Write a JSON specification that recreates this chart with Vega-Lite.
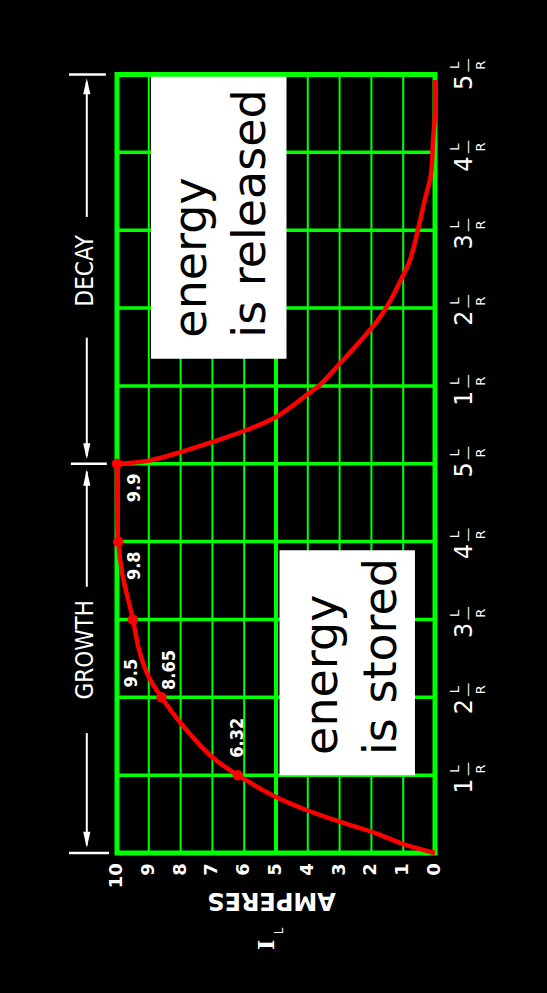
{
  "$schema": "https://vega.github.io/schema/vega-lite/v6.json",
  "width": 318,
  "height": 778.5,
  "autosize": {"type": "none"},
  "padding": {"left": 117, "top": 74.5, "right": 112, "bottom": 140},
  "background": "#000000",
  "config": {"view": {"stroke": "#00ff00", "strokeWidth": 5}},
  "datasets": {
    "vgrid": [{"a": 1}, {"a": 2}, {"a": 3}, {"a": 4}, {"a": 5}, {"a": 6}, {"a": 7}, {"a": 8}, {"a": 9}],
    "hgrid": [{"t": 1}, {"t": 2}, {"t": 3}, {"t": 4}, {"t": 5}, {"t": 6}, {"t": 7}, {"t": 8}, {"t": 9}],
    "boxes": [
      {"a1": 8.93, "a2": 4.67, "t1": 9.97, "t2": 6.35},
      {"a1": 4.89, "a2": 0.63, "t1": 3.89, "t2": 1.0}
    ],
    "boxtext": [
      {"a": 7.19, "t": 6.62, "lines": ["energy", "is released"]},
      {"a": 3.09, "t": 1.26, "lines": ["energy", "is stored"]}
    ],
    "curve": [
      {"phase": "growth", "t": 0, "a": 0}, {"phase": "growth", "t": 0.1, "a": 0.9}, {"phase": "growth", "t": 0.26, "a": 1.9},
      {"phase": "growth", "t": 0.39, "a": 2.9}, {"phase": "growth", "t": 0.53, "a": 3.9}, {"phase": "growth", "t": 0.72, "a": 5.0},
      {"phase": "growth", "t": 1.0, "a": 6.2}, {"phase": "growth", "t": 1.23, "a": 7.0}, {"phase": "growth", "t": 1.67, "a": 8.0},
      {"phase": "growth", "t": 2.0, "a": 8.6}, {"phase": "growth", "t": 2.26, "a": 9.0}, {"phase": "growth", "t": 2.6, "a": 9.3},
      {"phase": "growth", "t": 3.0, "a": 9.5}, {"phase": "growth", "t": 3.6, "a": 9.84}, {"phase": "growth", "t": 4.0, "a": 9.96},
      {"phase": "growth", "t": 4.5, "a": 10.0}, {"phase": "growth", "t": 5.0, "a": 10.0},
      {"phase": "decay", "t": 5.0, "a": 10.0}, {"phase": "decay", "t": 5.04, "a": 9.0}, {"phase": "decay", "t": 5.15, "a": 8.0},
      {"phase": "decay", "t": 5.28, "a": 7.0}, {"phase": "decay", "t": 5.43, "a": 5.95}, {"phase": "decay", "t": 5.6, "a": 5.0},
      {"phase": "decay", "t": 5.91, "a": 3.95}, {"phase": "decay", "t": 6.01, "a": 3.63}, {"phase": "decay", "t": 6.33, "a": 2.9},
      {"phase": "decay", "t": 6.6, "a": 2.3}, {"phase": "decay", "t": 6.87, "a": 1.75}, {"phase": "decay", "t": 7.1, "a": 1.4},
      {"phase": "decay", "t": 7.39, "a": 1.04}, {"phase": "decay", "t": 7.61, "a": 0.79}, {"phase": "decay", "t": 8.0, "a": 0.54},
      {"phase": "decay", "t": 8.39, "a": 0.32}, {"phase": "decay", "t": 8.71, "a": 0.13}, {"phase": "decay", "t": 9.16, "a": 0.06},
      {"phase": "decay", "t": 9.5, "a": 0.0}, {"phase": "decay", "t": 9.93, "a": 0.0}
    ],
    "markers": [{"t": 1, "a": 6.2}, {"t": 2, "a": 8.6}, {"t": 3, "a": 9.5}, {"t": 4, "a": 9.96}, {"t": 5, "a": 10.0}],
    "vlabels": [
      {"a": 6.21, "t": 1.48, "label": "6.32"},
      {"a": 8.33, "t": 2.35, "label": "8.65"},
      {"a": 9.53, "t": 2.31, "label": "9.5"},
      {"a": 9.43, "t": 3.69, "label": "9.8"},
      {"a": 9.43, "t": 4.69, "label": "9.9"}
    ],
    "tlabels": [
      {"t": 0.86, "n": "1"}, {"t": 1.88, "n": "2"}, {"t": 2.86, "n": "3"}, {"t": 3.87, "n": "4"}, {"t": 4.92, "n": "5"},
      {"t": 5.84, "n": "1"}, {"t": 6.87, "n": "2"}, {"t": 7.85, "n": "3"}, {"t": 8.85, "n": "4"}, {"t": 9.9, "n": "5"}
    ],
    "alabels": [
      {"a": 0, "n": "0"}, {"a": 1, "n": "1"}, {"a": 2, "n": "2"}, {"a": 3, "n": "3"}, {"a": 4, "n": "4"},
      {"a": 5, "n": "5"}, {"a": 6, "n": "6"}, {"a": 7, "n": "7"}, {"a": 8, "n": "8"}, {"a": 9, "n": "9"}, {"a": 10, "n": "10"}
    ],
    "vrules": [
      {"a": 10.95, "t1": 9.9, "t2": 8.17},
      {"a": 10.95, "t1": 6.62, "t2": 5.1},
      {"a": 10.95, "t1": 4.9, "t2": 3.42},
      {"a": 10.95, "t1": 1.54, "t2": 0.1}
    ],
    "hticks": [
      {"t": 10, "a1": 11.51, "a2": 10.35},
      {"t": 5, "a1": 11.45, "a2": 10.32},
      {"t": 0, "a1": 11.51, "a2": 10.25}
    ],
    "arrowheads": [
      {"a": 10.95, "t": 9.85, "dir": "up"},
      {"a": 10.95, "t": 5.16, "dir": "down"},
      {"a": 10.95, "t": 4.82, "dir": "up"},
      {"a": 10.95, "t": 0.17, "dir": "down"}
    ],
    "sections": [
      {"a": 10.98, "t": 7.48, "label": "DECAY"},
      {"a": 10.98, "t": 2.61, "label": "GROWTH"}
    ]
  },
  "layer": [
    {
      "data": {"name": "vgrid"},
      "mark": {"type": "rule", "color": "#00ff00"},
      "encoding": {
        "x": {"field": "a", "type": "quantitative", "scale": {"domain": [0, 10], "reverse": true, "nice": false, "zero": false}, "axis": null},
        "strokeWidth": {"condition": {"test": "datum.a === 5", "value": 4}, "value": 2}
      }
    },
    {
      "data": {"name": "hgrid"},
      "mark": {"type": "rule", "color": "#00ff00", "strokeWidth": 3.5},
      "encoding": {
        "y": {"field": "t", "type": "quantitative", "scale": {"domain": [0, 10], "nice": false, "zero": false}, "axis": null}
      }
    },
    {
      "data": {"name": "boxes"},
      "mark": {"type": "rect", "color": "#ffffff"},
      "encoding": {
        "x": {"field": "a1", "type": "quantitative", "axis": null},
        "x2": {"field": "a2"},
        "y": {"field": "t1", "type": "quantitative", "axis": null},
        "y2": {"field": "t2"}
      }
    },
    {
      "data": {"name": "boxtext"},
      "mark": {"type": "text", "angle": 270, "align": "left", "baseline": "alphabetic", "font": "DejaVu Sans", "fontSize": 46, "lineHeight": 59, "color": "#000000"},
      "encoding": {
        "x": {"field": "a", "type": "quantitative", "axis": null},
        "y": {"field": "t", "type": "quantitative", "axis": null},
        "text": {"field": "lines", "type": "nominal"}
      }
    },
    {
      "data": {"name": "curve"},
      "mark": {"type": "line", "color": "#ff0000", "strokeWidth": 4.5, "interpolate": "catmull-rom"},
      "encoding": {
        "x": {"field": "a", "type": "quantitative", "axis": null},
        "y": {"field": "t", "type": "quantitative", "axis": null},
        "detail": {"field": "phase", "type": "nominal"},
        "order": {"field": "t", "type": "quantitative"}
      }
    },
    {
      "data": {"name": "markers"},
      "mark": {"type": "point", "shape": "circle", "filled": true, "color": "#ff0000", "size": 110, "opacity": 1},
      "encoding": {
        "x": {"field": "a", "type": "quantitative", "axis": null},
        "y": {"field": "t", "type": "quantitative", "axis": null}
      }
    },
    {
      "data": {"name": "vlabels"},
      "mark": {"type": "text", "angle": 270, "align": "center", "baseline": "middle", "font": "DejaVu Sans Condensed, DejaVu Sans", "fontWeight": "bold", "fontSize": 18, "color": "#ffffff"},
      "encoding": {
        "x": {"field": "a", "type": "quantitative", "axis": null},
        "y": {"field": "t", "type": "quantitative", "axis": null},
        "text": {"field": "label", "type": "nominal"}
      }
    },
    {
      "data": {"name": "tlabels"},
      "mark": {"type": "text", "angle": 270, "align": "center", "baseline": "middle", "font": "DejaVu Sans", "fontSize": 24, "color": "#ffffff"},
      "encoding": {
        "x": {"datum": -0.95, "type": "quantitative", "axis": null},
        "y": {"field": "t", "type": "quantitative", "axis": null},
        "text": {"field": "n", "type": "nominal"}
      }
    },
    {
      "data": {"name": "tlabels"},
      "mark": {"type": "text", "angle": 270, "align": "center", "baseline": "middle", "font": "DejaVu Sans", "fontSize": 13, "color": "#ffffff", "dx": 17, "dy": -10, "text": "L"},
      "encoding": {
        "x": {"datum": -0.95, "type": "quantitative", "axis": null},
        "y": {"field": "t", "type": "quantitative", "axis": null}
      }
    },
    {
      "data": {"name": "tlabels"},
      "mark": {"type": "text", "angle": 270, "align": "center", "baseline": "middle", "font": "DejaVu Sans", "fontSize": 13, "color": "#ffffff", "dx": 17, "dy": 16, "text": "R"},
      "encoding": {
        "x": {"datum": -0.95, "type": "quantitative", "axis": null},
        "y": {"field": "t", "type": "quantitative", "axis": null}
      }
    },
    {
      "data": {"name": "tlabels"},
      "mark": {"type": "text", "angle": 270, "align": "center", "baseline": "middle", "font": "DejaVu Sans", "fontSize": 14, "color": "#ffffff", "dx": 17, "dy": 3, "text": "—"},
      "encoding": {
        "x": {"datum": -0.95, "type": "quantitative", "axis": null},
        "y": {"field": "t", "type": "quantitative", "axis": null}
      }
    },
    {
      "data": {"name": "alabels"},
      "mark": {"type": "text", "angle": 270, "align": "right", "baseline": "middle", "font": "DejaVu Sans", "fontWeight": "bold", "fontSize": 18, "color": "#ffffff"},
      "encoding": {
        "x": {"field": "a", "type": "quantitative", "axis": null},
        "y": {"datum": -0.13, "type": "quantitative", "axis": null},
        "text": {"field": "n", "type": "nominal"}
      }
    },
    {
      "data": {"values": [{"label": "AMPERES"}]},
      "mark": {"type": "text", "angle": 180, "align": "center", "baseline": "middle", "font": "DejaVu Sans", "fontWeight": "bold", "fontSize": 24, "color": "#ffffff"},
      "encoding": {
        "x": {"datum": 5.14, "type": "quantitative", "axis": null},
        "y": {"datum": -0.6, "type": "quantitative", "axis": null},
        "text": {"field": "label", "type": "nominal"}
      }
    },
    {
      "data": {"values": [{"label": "I"}]},
      "mark": {"type": "text", "angle": 270, "align": "center", "baseline": "middle", "font": "DejaVu Serif", "fontWeight": "bold", "fontSize": 22, "color": "#ffffff"},
      "encoding": {
        "x": {"datum": 5.27, "type": "quantitative", "axis": null},
        "y": {"datum": -1.18, "type": "quantitative", "axis": null},
        "text": {"field": "label", "type": "nominal"}
      }
    },
    {
      "data": {"values": [{"label": "L"}]},
      "mark": {"type": "text", "angle": 270, "align": "center", "baseline": "middle", "font": "DejaVu Sans", "fontSize": 12, "color": "#ffffff"},
      "encoding": {
        "x": {"datum": 4.92, "type": "quantitative", "axis": null},
        "y": {"datum": -1.0, "type": "quantitative", "axis": null},
        "text": {"field": "label", "type": "nominal"}
      }
    },
    {
      "data": {"name": "vrules"},
      "mark": {"type": "rule", "color": "#ffffff", "strokeWidth": 2},
      "encoding": {
        "x": {"field": "a", "type": "quantitative", "axis": null},
        "y": {"field": "t1", "type": "quantitative", "axis": null},
        "y2": {"field": "t2"}
      }
    },
    {
      "data": {"name": "hticks"},
      "mark": {"type": "rule", "color": "#ffffff", "strokeWidth": 2.5},
      "encoding": {
        "y": {"field": "t", "type": "quantitative", "axis": null},
        "x": {"field": "a1", "type": "quantitative", "axis": null},
        "x2": {"field": "a2"}
      }
    },
    {
      "data": {"name": "arrowheads"},
      "mark": {"type": "point", "filled": true, "color": "#ffffff", "size": 256, "opacity": 1},
      "encoding": {
        "x": {"field": "a", "type": "quantitative", "axis": null},
        "y": {"field": "t", "type": "quantitative", "axis": null},
        "shape": {"field": "dir", "type": "nominal", "legend": null, "scale": {"domain": ["up", "down"], "range": ["M0,-1L0.45,1L-0.45,1Z", "M0,1L0.45,-1L-0.45,-1Z"]}}
      }
    },
    {
      "data": {"name": "sections"},
      "mark": {"type": "text", "angle": 270, "align": "center", "baseline": "middle", "font": "DejaVu Sans Condensed, DejaVu Sans", "fontSize": 24, "color": "#ffffff"},
      "encoding": {
        "x": {"field": "a", "type": "quantitative", "axis": null},
        "y": {"field": "t", "type": "quantitative", "axis": null},
        "text": {"field": "label", "type": "nominal"}
      }
    }
  ]
}
